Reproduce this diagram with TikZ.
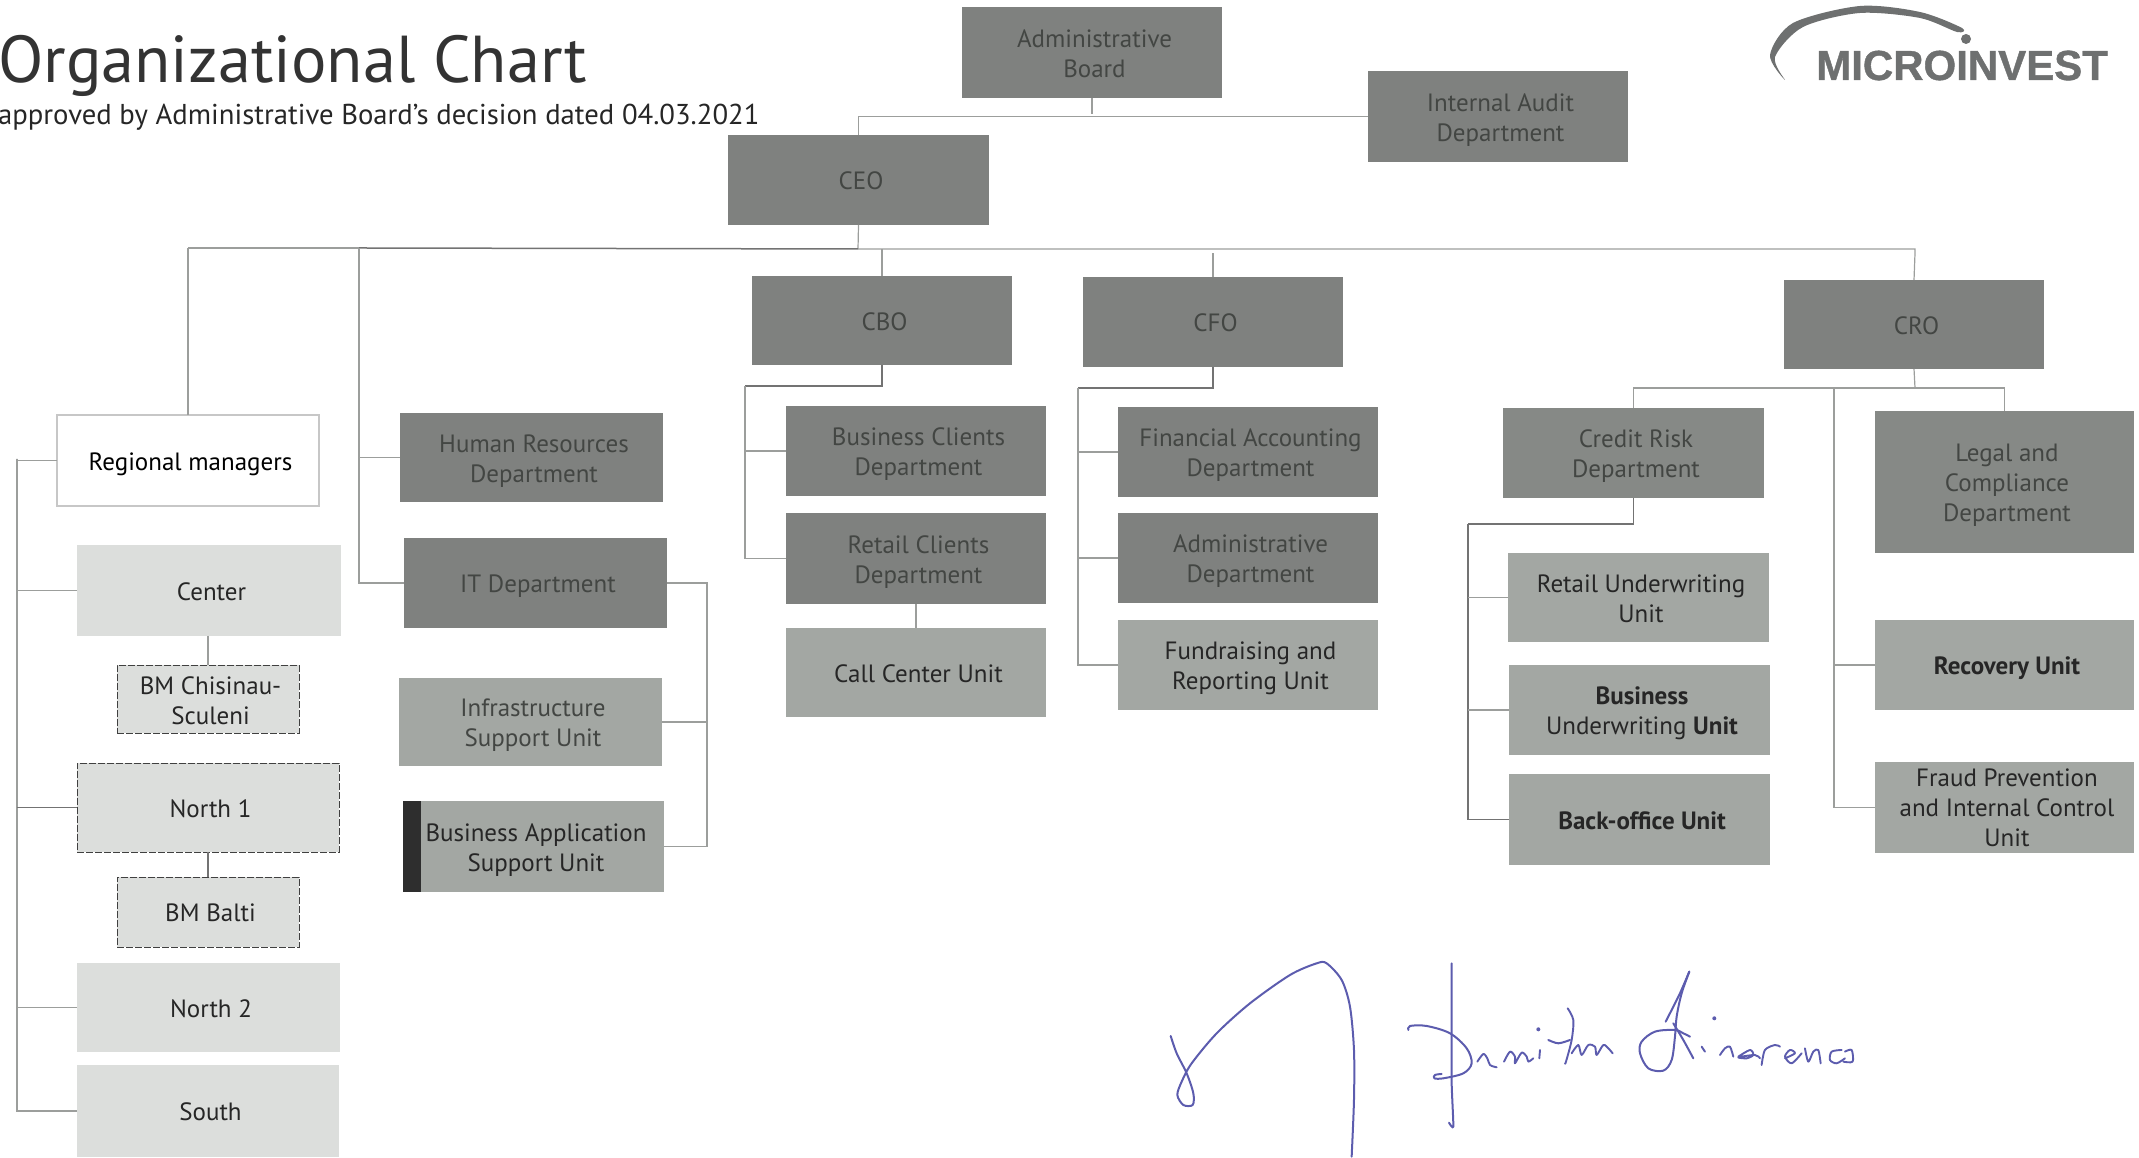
\documentclass[tikz,border=0pt]{standalone}
\usepackage{fontspec}
\setmainfont{PT Sans}
\newfontfamily\logofont{Liberation Sans}[BoldFeatures={FakeBold=1}]
\definecolor{darkbox}{HTML}{7F817F}
\definecolor{midbox}{HTML}{A3A7A3}
\definecolor{lightbox}{HTML}{DCDEDC}
\definecolor{darktext}{HTML}{434643}
\definecolor{conn}{HTML}{9C9E9C}
\definecolor{sign}{HTML}{5C5CAE}
\definecolor{logogrey}{HTML}{6E7070}
\tikzset{
  x=1pt,y=1pt,
  boxbase/.style={inner sep=0pt,outer sep=0pt,align=center,font=\fontsize{25}{30}\selectfont},
  darkunit/.style={boxbase,fill=darkbox,text=darktext},
  semidark/.style={boxbase,fill=darkbox!80!midbox,text=darktext},
  midunit/.style={boxbase,fill=midbox,text=black!85},
  lightunit/.style={boxbase,fill=lightbox,text=black!85},
  whiteunit/.style={boxbase,fill=white,draw=black!22,line width=1.5pt,text=black},
  dashedge/.style={draw=black!75,line width=.7pt,dash pattern=on 7pt off 2pt},
  link/.style={draw=conn,line width=1.2pt},
  linkdark/.style={draw=black!55,line width=1.5pt},
  signstroke/.style={draw=sign,line width=2pt,line cap=round,line join=round},
  signfine/.style={signstroke,line width=1.9pt},
}
\newcommand{\orgbox}[7]{%
  \node[#6,minimum width={(#4-#2)*1pt},minimum height={(#5-#3)*1pt}] (#1)
    at ({(#2+#4)/2},{1158-(#3+#5)/2}) {\kern5pt\begin{tabular}{@{}c@{}}\rule{0pt}{29pt}#7\end{tabular}};}
\begin{document}
\begin{tikzpicture}
\useasboundingbox (0,0) rectangle (2139,1158);
% titles
\node[anchor=base west,inner sep=0pt,text=black!80,font=\fontsize{66.3}{70}\selectfont] (title) at (-2,1075) {Organizational Chart};
\node[anchor=base west,inner sep=0pt,text=black!85,font=\fontsize{28.7}{32}\selectfont] (subtitle) at (-2,1033) {approved by Administrative Board’s decision dated 04.03.2021};
% boxes
\orgbox{admin}{962}{7}{1222}{98}{darkunit}{Administrative\\Board}
\orgbox{audit}{1368}{71}{1628}{162}{darkunit}{Internal Audit\\Department}
\orgbox{ceo}{728}{135}{989}{225}{darkunit}{CEO}
\orgbox{cbo}{752}{276}{1012}{365}{darkunit}{CBO}
\orgbox{cfo}{1083}{277}{1343}{367}{darkunit}{CFO}
\orgbox{cro}{1784}{280}{2044}{369}{darkunit}{CRO}
\orgbox{regional}{57}{415}{319}{506}{whiteunit}{Regional managers}
\orgbox{hr}{400}{413}{663}{502}{darkunit}{Human Resources\\Department}
\orgbox{bizclients}{786}{406}{1046}{496}{darkunit}{Business Clients\\Department}
\orgbox{finacc}{1118}{407}{1378}{497}{darkunit}{Financial Accounting\\Department}
\orgbox{credit}{1503}{408}{1764}{498}{semidark}{Credit Risk\\Department}
\orgbox{legal}{1875}{411}{2134}{553}{semidark}{Legal and\\Compliance\\Department}
\orgbox{center}{77}{545}{341}{636}{lightunit}{Center}
\orgbox{chisinau}{117}{666}{299}{733}{lightunit,dashedge}{BM Chisinau-\\Sculeni}
\orgbox{northone}{77}{763}{339}{852}{lightunit,dashedge}{North 1}
\orgbox{balti}{117}{877}{299}{947}{lightunit,dashedge}{BM Balti}
\orgbox{northtwo}{77}{963}{340}{1052}{lightunit}{North 2}
\orgbox{south}{77}{1065}{339}{1157}{lightunit}{South}
\orgbox{it}{404}{538}{667}{628}{darkunit}{IT Department}
\orgbox{infra}{399}{678}{662}{766}{midunit,text=darktext}{Infrastructure\\Support Unit}
\orgbox{busapp}{403}{801}{664}{892}{midunit}{Business Application\\Support Unit}
\orgbox{retailclients}{786}{513}{1046}{604}{darkunit}{Retail Clients\\Department}
\orgbox{callcenter}{786}{628}{1046}{717}{midunit}{Call Center Unit}
\orgbox{admindept}{1118}{513}{1378}{603}{darkunit}{Administrative\\Department}
\orgbox{fundraising}{1118}{620}{1378}{710}{midunit}{Fundraising and\\Reporting Unit}
\orgbox{retailuw}{1508}{553}{1769}{642}{midunit}{Retail Underwriting\\Unit}
\orgbox{bizuw}{1509}{665}{1770}{755}{midunit}{\textbf{Business}\\Underwriting \textbf{Unit}}
\orgbox{backoffice}{1509}{774}{1770}{865}{midunit}{\textbf{Back-office Unit}}
\orgbox{recovery}{1875}{620}{2134}{710}{midunit}{\textbf{Recovery Unit}}
\orgbox{fraud}{1875}{762}{2134}{853}{midunit,text height=50pt,text depth=40pt}{Fraud Prevention\\and Internal Control\\Unit}
\fill[black!82] (busapp.north west) rectangle ([xshift=18pt]busapp.south west);
% bus points
\coordinate (topbus) at (858,1044);
\coordinate (ceobus) at (858,909);
\coordinate (hrtrunk) at (359,910);
\coordinate (regtrunk) at (188,910);
\coordinate (crobus) at (1915,905);
\coordinate (cbobus) at (745,772);
\coordinate (cfobus) at (1078,770);
\coordinate (crosplit) at (1915,770);
\coordinate (lawtrunk) at (1834,770);
\coordinate (creditbus) at (1468,634);
\coordinate (ittrunk) at (707,574);
\coordinate (regleft) at (17,699);
% level 1
\draw[link] (admin.south) -- (admin.south |- topbus);
\draw[link] (ceo.north) |- (audit.west);
\draw[link] (ceo.south) -- (ceobus);
\draw[linkdark] (ceobus) -- (hrtrunk);
\draw[link] (hrtrunk) -- (regtrunk);
\draw[link] (regtrunk) -- (regional.north);
\draw[link] (ceobus) -- (ceobus -| crobus) -- (crobus) -- (cro.north);
\draw[link] (cbo.north) -- (cbo.north |- ceobus);
\draw[link] (cfo.north) -- (cfo.north |- crobus);
% HR and IT
\draw[link] (hrtrunk) |- (it.west);
\draw[link] (hrtrunk |- hr.west) -- (hr.west);
\draw[link] (it.east) -| (ittrunk) |- (busapp.east);
\draw[link] (ittrunk |- infra.east) -- (infra.east);
% CBO
\draw[linkdark] (cbo.south) |- (cbobus);
\draw[link] (cbobus) |- (retailclients.west);
\draw[link] (cbobus |- bizclients.west) -- (bizclients.west);
\draw[link] (retailclients.south -| callcenter.north) -- (callcenter.north);
% CFO
\draw[linkdark] (cfo.south) |- (cfobus);
\draw[link] (cfobus) |- (fundraising.west);
\draw[link] (cfobus |- finacc.west) -- (finacc.west);
\draw[link] (cfobus |- admindept.west) -- (admindept.west);
% CRO
\draw[link] (cro.south) -- (crosplit);
\draw[link] (crosplit) -| (credit.north);
\draw[link] (crosplit) -| (legal.north);
\draw[link] (lawtrunk) |- (fraud.west);
\draw[link] (lawtrunk |- recovery.west) -- (recovery.west);
% Credit Risk
\draw[linkdark,line width=1.2pt] (credit.south) |- (creditbus);
\draw[linkdark,line width=1.2pt] (creditbus) |- (backoffice.west);
\draw[link] (creditbus |- retailuw.west) -- (retailuw.west);
\draw[link] (creditbus |- bizuw.west) -- (bizuw.west);
% Regional
\draw[link] (regional.west) -| (regleft) |- (south.west);
\draw[link] (regleft |- center.west) -- (center.west);
\draw[linkdark,line width=1.2pt] (regleft |- northone.west) -- (northone.west);
\draw[link] (regleft |- northtwo.west) -- (northtwo.west);
\draw[link] (center.south -| chisinau.north) -- (chisinau.north);
\draw[linkdark,line width=1.2pt] (northone.south -| balti.north) -- (balti.north);
% logo
\node[anchor=base west,inner sep=0pt,text=logogrey,font=\logofont\bfseries\fontsize{42}{45}\selectfont] (logo) at (1816,1078) {MICROINVEST};
\fill[logogrey] plot[smooth cycle,tension=.5] coordinates {(1785,1078) (1770,1103) (1793,1135) (1860,1152) (1920,1146) (1962,1130) (1957,1126) (1920,1140) (1860,1145) (1803,1131) (1775,1101)};
\fill[logogrey] (1966,1119) circle (5);
% signature, left part
\begin{scope}[shift={(1150,208)},x=0.3333pt,y=-0.3333pt]
\draw[signstroke,smooth,tension=.5] plot coordinates {(62,258) (80,310) (110,370) (130,430) (128,465) (100,465) (82,435) (95,395) (125,340) (200,250) (300,160) (420,75) (500,40) (530,40) (575,90) (600,170) (612,300) (612,450) (605,620)};
\end{scope}
% signature, name
\begin{scope}[shift={(1400,208)},x=0.3333pt,y=-0.3333pt]
\draw[signstroke,smooth,tension=.3] plot coordinates {(155,40) (155,200) (155,400) (160,530) (147,518)};
\draw[signstroke,smooth,tension=.55] plot coordinates {(25,240) (30,228) (80,228) (150,250) (200,295) (215,340) (190,370) (130,385) (103,385) (105,375) (125,372)};
\draw[signfine,smooth,tension=.5] plot coordinates {(232,335) (250,312) (262,325) (270,345) (290,352)};
\draw[signfine,smooth,tension=.5] plot coordinates {(312,335) (330,305) (345,320) (345,340) (365,308) (380,320) (385,335) (400,325)};
\draw[signfine] (420,300) -- (418,325);
\fill[sign] (415,238) circle (6);
\draw[signfine,smooth,tension=.5] plot coordinates {(503,175) (520,210) (515,270) (498,335) (495,340)};
\draw[signstroke,smooth,tension=.5] plot coordinates {(445,270) (475,280) (510,270)};
\draw[signfine,smooth,tension=.5] plot coordinates {(515,310) (535,285) (545,315) (565,285) (585,290) (590,315) (610,285) (625,295) (638,310)};
\draw[signstroke,smooth,tension=.4] plot coordinates {(868,65) (840,130) (815,180) (797,215)};
\draw[signstroke,smooth,tension=.55] plot coordinates {(868,65) (845,130) (830,200) (825,260) (815,330) (790,362) (745,355) (720,310) (725,275) (765,245) (825,240) (850,250) (870,260)};
\draw[signstroke,smooth,tension=.5] plot coordinates {(820,220) (850,270) (880,325)};
\fill[sign] (943,205) circle (6);
\draw[signfine] (905,290) -- (915,305);
\draw[signfine,smooth,tension=.5] plot coordinates {(960,315) (975,295) (990,290) (1000,320)};
\draw[signfine,smooth,tension=.5] plot coordinates {(1015,320) (1050,300) (1060,315) (1040,325) (1015,322) (1065,315) (1080,325)};
\draw[signfine,smooth,tension=.5] plot coordinates {(1085,345) (1095,300) (1125,285) (1140,290)};
\draw[signfine,smooth,tension=.5] plot coordinates {(1155,325) (1185,310) (1170,300) (1155,320) (1175,340) (1205,310)};
\draw[signfine,smooth,tension=.5] plot coordinates {(1215,295) (1225,335) (1240,305) (1255,300) (1262,340)};
\draw[signfine,smooth,tension=.5] plot coordinates {(1325,300) (1295,305) (1290,330) (1310,340) (1335,325)};
\draw[signfine,smooth,tension=.5] plot coordinates {(1335,305) (1355,300) (1358,335) (1330,335)};
\end{scope}
\end{tikzpicture}
\end{document}
